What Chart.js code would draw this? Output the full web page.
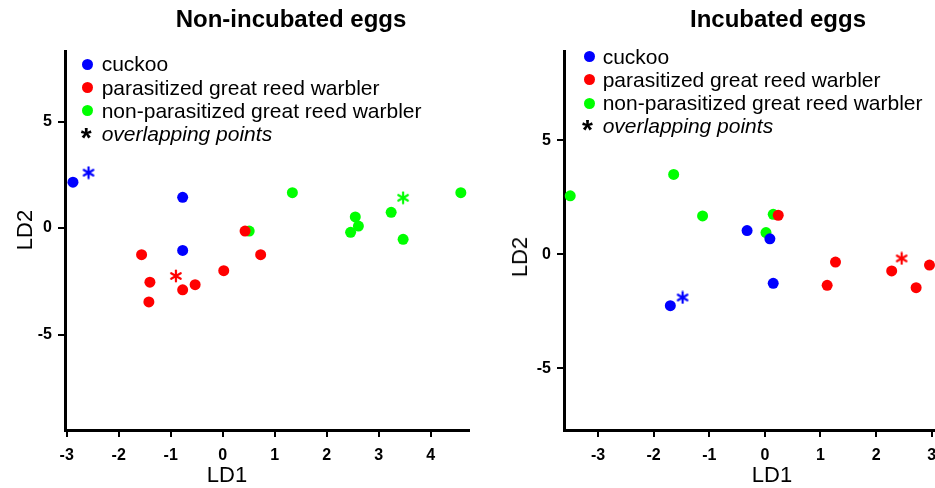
<!DOCTYPE html>
<html>
<head>
<meta charset="utf-8">
<script src="https://cdn.jsdelivr.net/npm/chart.js@4.4.0/dist/chart.umd.min.js"></script>
<style>
  html, body { margin: 0; padding: 0; background: #fff; }
  #wrap { position: relative; width: 935px; height: 488px; overflow: hidden; background: #fff;
          font-family: "Liberation Sans", Arial, sans-serif; color: #000; }
  .box { position: absolute; top: 0; height: 488px; }
  .title { position: absolute; font-weight: bold; font-size: 24px; line-height: 24px; white-space: nowrap; transform: translate(-50%, -50%); }
  .axt { position: absolute; font-size: 22px; line-height: 22px; white-space: nowrap; transform: translate(-50%, -50%); }
  .axt.rot { transform: translate(-50%, -50%) rotate(-90deg); }
  .leg { position: absolute; font-size: 21px; line-height: 22px; white-space: nowrap; }
  .dot { position: absolute; width: 11px; height: 11px; border-radius: 50%; }
  .ast { position: absolute; font-weight: bold; font-size: 28px; line-height: 28px; }
</style>
</head>
<body>
<div id="wrap">
  <div class="box" style="left:0;width:480px"><canvas id="chart1" width="480" height="488"></canvas></div>
  <div class="box" style="left:470px;width:480px"><canvas id="chart2" width="480" height="488"></canvas></div>

  <div class="title" style="left:291px;top:19px">Non-incubated eggs</div>
  <div class="title" style="left:778px;top:19px">Incubated eggs</div>

  <div class="axt" style="left:227px;top:475px">LD1</div>
  <div class="axt" style="left:772px;top:475px">LD1</div>
  <div class="axt rot" style="left:25px;top:230px">LD2</div>
  <div class="axt rot" style="left:520px;top:257px">LD2</div>

  <div id="legend1"></div>
  <div id="legend2"></div>
</div>

<script>
// ---- data: Non-incubated eggs ----
var niCuckooX = [-2.88, -0.77, -0.77];
var niCuckooY = [2.15, 1.44, -1.05];
var niCuckooStarX = [-2.58];
var niCuckooStarY = [2.60];
var niParX = [-1.56, -1.40, -1.42, -0.77, -0.53, 0.02, 0.73, 0.43];
var niParY = [-1.25, -2.54, -3.47, -2.90, -2.66, -2.00, -1.25, -0.14];
var niParStarX = [-0.90];
var niParStarY = [-2.25];
var niNonX = [0.51, 1.34, 2.55, 2.61, 2.46, 3.24, 3.47, 4.58];
var niNonY = [-0.14, 1.66, 0.52, 0.09, -0.20, 0.74, -0.53, 1.66];
var niNonStarX = [3.47];
var niNonStarY = [1.42];

// ---- data: Incubated eggs ----
var inCuckooX = [-0.32, 0.09, 0.15, -1.70];
var inCuckooY = [1.04, 0.68, -1.27, -2.25];
var inCuckooStarX = [-1.48];
var inCuckooStarY = [-1.89];
var inParX = [0.24, 1.27, 1.12, 2.28, 2.72, 2.96];
var inParY = [1.71, -0.34, -1.36, -0.73, -1.46, -0.47];
var inParStarX = [2.46];
var inParStarY = [-0.18];
var inNonX = [-3.50, -1.64, -1.12, 0.15, 0.02];
var inNonY = [2.56, 3.50, 1.68, 1.75, 0.95];

// ticks
var xTicks1 = [-3, -2, -1, 0, 1, 2, 3, 4];
var xTicks2 = [-3, -2, -1, 0, 1, 2, 3];
var yTicks = [-5, 0, 5];

var legendLabels = ['cuckoo', 'parasitized great reed warbler', 'non-parasitized great reed warbler'];
var colors = ['#0000ff', '#ff0000', '#00ff00'];

function pts(xs, ys) {
  return xs.map(function (x, i) { return { x: x, y: ys[i] }; });
}

// little asterisk used as point style for "overlapping points"
function starImg(color) {
  var c = document.createElement('canvas');
  c.width = 14; c.height = 14;
  var g = c.getContext('2d');
  g.strokeStyle = color;
  g.lineWidth = 2.2;
  g.lineCap = 'round';
  var r = 5.5;
  for (var k = 0; k < 3; k++) {
    var a = Math.PI / 2 + k * Math.PI / 3;
    g.beginPath();
    g.moveTo(7 + r * Math.cos(a), 7 + r * Math.sin(a));
    g.lineTo(7 - r * Math.cos(a), 7 - r * Math.sin(a));
    g.stroke();
  }
  return c;
}

function dotSet(data, color) {
  return { data: data, backgroundColor: color, borderWidth: 0, pointRadius: 5.5, pointStyle: 'circle' };
}
function starSet(data, color) {
  return { data: data, pointStyle: starImg(color), pointRadius: 7 };
}

function axisOpts(min, max, ticks, fitSize, isX) {
  return {
    type: 'linear',
    min: min,
    max: max,
    afterBuildTicks: function (scale) {
      scale.ticks = ticks.map(function (v) { return { value: v }; });
    },
    afterFit: function (scale) {
      if (isX) scale.height = fitSize; else scale.width = fitSize;
    },
    grid: { display: true, drawOnChartArea: false, drawTicks: true, tickLength: 7, color: '#000', lineWidth: 2 },
    border: { display: true, color: '#000', width: 3 },
    ticks: {
      color: '#000',
      padding: isX ? 9 : 6,
      font: { family: 'Liberation Sans', size: 16, weight: 'bold' },
      callback: function (v) { return v; }
    },
    title: { display: false }
  };
}

function makeChart(id, datasets, xr, yr, xt, yWidth, padRight) {
  var ctx = document.getElementById(id).getContext('2d');
  return new Chart(ctx, {
    type: 'scatter',
    data: { datasets: datasets },
    options: {
      responsive: false,
      animation: false,
      devicePixelRatio: 1,
      layout: { padding: { top: 51, right: padRight, left: 0, bottom: 0 } },
      plugins: { legend: { display: false }, tooltip: { enabled: false }, title: { display: false } },
      scales: {
        x: axisOpts(xr[0], xr[1], xt, 58, true),
        y: axisOpts(yr[0], yr[1], yTicks, yWidth, false)
      }
    }
  });
}

// first dataset ends up on top, so blue -> red -> green
makeChart('chart1', [
  dotSet(pts(niCuckooX, niCuckooY), colors[0]),
  starSet(pts(niCuckooStarX, niCuckooStarY), colors[0]),
  dotSet(pts(niParX, niParY), colors[1]),
  starSet(pts(niParStarX, niParStarY), colors[1]),
  dotSet(pts(niNonX, niNonY), colors[2]),
  starSet(pts(niNonStarX, niNonStarY), colors[2])
], [-3.033, 4.737], [-9.48, 8.31], xTicks1, 65, 11);

makeChart('chart2', [
  dotSet(pts(inCuckooX, inCuckooY), colors[0]),
  starSet(pts(inCuckooStarX, inCuckooStarY), colors[0]),
  dotSet(pts(inParX, inParY), colors[1]),
  starSet(pts(inParStarX, inParStarY), colors[1]),
  dotSet(pts(inNonX, inNonY), colors[2])
], [-3.612, 3.149], [-7.696, 8.905], xTicks2, 94, 10);

// legends inside the plot area
function buildLegend(id, dotX, textX, firstY) {
  var el = document.getElementById(id);
  var html = '';
  var step = 23.2;
  for (var i = 0; i < legendLabels.length; i++) {
    var cy = firstY + i * step;
    html += '<div class="dot" style="left:' + (dotX - 5.5) + 'px;top:' + (cy - 5.5) + 'px;background:' + colors[i] + '"></div>';
    html += '<div class="leg" style="left:' + textX + 'px;top:' + (cy - 11) + 'px">' + legendLabels[i] + '</div>';
  }
  var sy = firstY + 3 * step;
  html += '<div class="ast" style="left:' + (dotX - 7) + 'px;top:' + (sy - 10) + 'px">*</div>';
  html += '<div class="leg" style="left:' + textX + 'px;top:' + (sy - 11) + 'px;font-style:italic">overlapping points</div>';
  el.innerHTML = html;
}
buildLegend('legend1', 87.7, 101.7, 64.3);
buildLegend('legend2', 589, 602.7, 56.7);
</script>
</body>
</html>
